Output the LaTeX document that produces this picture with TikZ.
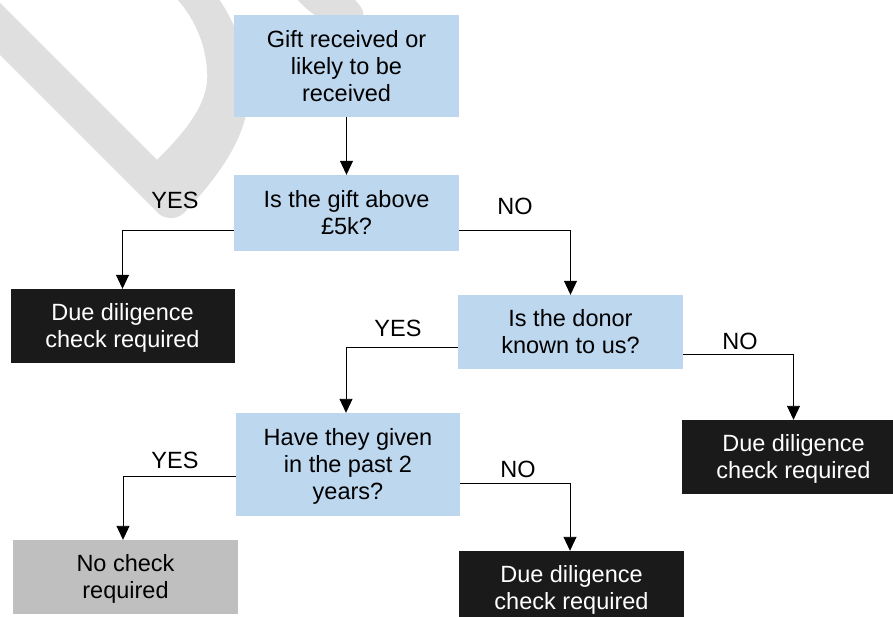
\documentclass[tikz,border=0pt]{standalone}
\usepackage{fontspec}
\setmainfont{Liberation Sans}
\usetikzlibrary{arrows.meta,calc}
\definecolor{boxblue}{HTML}{BDD7EE}
\definecolor{boxblack}{HTML}{1A1A1A}
\definecolor{boxgrey}{HTML}{BFBFBF}
\definecolor{wmgrey}{HTML}{DFDFDF}
\newcommand{\wst}{\rule[-5pt]{0pt}{26.3pt}}
\begin{document}
\begin{tikzpicture}[x=1pt,y=-1pt,
  every node/.style={font=\fontsize{23.5}{27}\selectfont, align=center, inner sep=0pt},
  qbox/.style={fill=boxblue, minimum width=225pt},
  ddbox/.style={fill=boxblack, text=white, minimum width=224pt, minimum height=74pt},
  okbox/.style={fill=boxgrey, minimum width=225pt, minimum height=74pt},
  lbl/.style={},
  arr/.style={draw=black, line width=0.9pt, -{Triangle[width=13pt,length=14pt]}}]
\useasboundingbox (0,0) rectangle (893,617);
\clip (0,0) rectangle (893,617);
\fill[white] (0,0) rectangle (893,617);
% watermark fragment
\fill[wmgrey] (-2,1) -- (157,160) .. controls (190,127) and (210,100) .. (207,70)
  .. controls (205,40) and (192,15) .. (176,-2) -- (218,-2)
  .. controls (238,25) and (250,65) .. (248,100)
  .. controls (246,140) and (215,180) .. (185,212)
  .. controls (175,222) and (162,218) .. (157,212) -- (-2,53) -- cycle;
\fill[wmgrey] (296,-2) .. controls (305,8) and (312,14) .. (320,18) -- (362,18)
  .. controls (366,12) and (360,5) .. (353,-2) -- cycle;
% boxes
\node[qbox, minimum height=102pt] (b1) at (346.5,66) {\wst Gift received or\\\wst likely to be\\\wst received};
\node[qbox, minimum height=76pt] (b2) at (346.5,213) {\wst Is the gift above\\\wst £5k?};
\node[ddbox] (d1) at (122.5,326) {\wst Due diligence\\\wst check required};
\node[qbox, minimum height=74pt] (b3) at (570.5,332) {\wst Is the donor\\\wst known to us?};
\node[ddbox] (d2) at (793.5,457) {\wst Due diligence\\\wst check required};
\node[qbox, minimum width=224pt, minimum height=103pt] (b4) at (348,464.5) {\wst Have they given\\\wst in the past 2\\\wst years?};
\node[okbox] (g1) at (125.5,577) {\wst No check\\\wst required};
\node[ddbox, minimum width=225pt] (d3) at (571.5,588) {\wst Due diligence\\\wst check required};
% labels
\node[lbl] (y1) at (175,200) {YES};
\node[lbl] (n1) at (515,206) {NO};
\node[lbl] (y2) at (398,328) {YES};
\node[lbl] (n2) at (740,341) {NO};
\node[lbl] (y3) at (175,460) {YES};
\node[lbl] (n3) at (518,469) {NO};
% connectors
\draw[arr] (b1) -- (b2);
\draw[arr] ([yshift=-17pt]b2.west) -| (d1.north);
\draw[arr] ([yshift=-17pt]b2.east) -| (b3.north);
\draw[arr] ([yshift=-15pt]b3.west) -| ([xshift=-2pt]b4.north);
\draw[arr] ([yshift=-22pt]b3.east) -| (d2.north);
\draw[arr] ([yshift=-11.5pt]b4.west) -| ([xshift=-2.5pt]g1.north);
\draw[arr] ([yshift=-18.5pt]b4.east) -| ([xshift=-1.5pt]d3.north);
\end{tikzpicture}
\end{document}
